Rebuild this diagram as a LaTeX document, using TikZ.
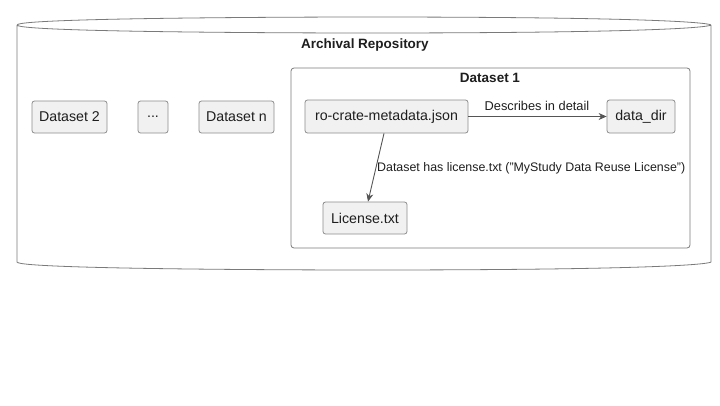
\documentclass[tikz,border=0pt]{standalone}
\usepackage{fontspec}
\setmainfont{Liberation Sans}
\usetikzlibrary{calc,arrows.meta}
\definecolor{boxfill}{HTML}{F1F1F1}
\definecolor{boxline}{HTML}{8C8C8C}
\definecolor{frameline}{HTML}{7A7A7A}
\definecolor{txt}{HTML}{1E1E1E}
\definecolor{arr}{HTML}{555555}
\begin{document}
\begin{tikzpicture}[x=1pt,y=1pt,
  box/.style={draw=boxline, fill=boxfill, rounded corners=2.5pt, line width=0.8pt,
    minimum height=32pt, inner sep=0pt, text=txt, font=\fontsize{14.2}{16}\selectfont},
  lbl/.style={text=txt, font=\fontsize{12.8}{15}\selectfont, inner sep=0pt},
  ttl/.style={text=txt, font=\fontsize{13.5}{15}\selectfont\bfseries, inner sep=0pt},
  conn/.style={draw=arr, line width=0.9pt, -{Stealth[length=8pt,width=7pt,inset=2.5pt]}}
]
\useasboundingbox (0,0) rectangle (720,-405);
% cylinder
\draw[frameline, line width=0.8pt]
  (17,-25) .. controls (17,-17) and (364,-17) .. (364,-17)
           .. controls (711,-17) and (711,-25) .. (711,-25)
  (17,-25) .. controls (17,-33) and (364,-33) .. (364,-33)
           .. controls (711,-33) and (711,-25) .. (711,-25)
  (17,-25) -- (17,-262)
           .. controls (17,-270) and (364,-270) .. (364,-270)
           .. controls (711,-270) and (711,-262) .. (711,-262)
           -- (711,-25);
\node[ttl] (arch) at (365,-45) {Archival Repository};
% dataset 1 frame
\draw[frameline, line width=0.8pt, rounded corners=3pt] (291,-68) rectangle (690,-248);
\node[ttl] (ds1) at (490,-78) {Dataset 1};
% nodes
\node[box, minimum width=75pt] (d2) at (69.5,-117) {Dataset 2};
\node[box, minimum width=30pt] (dots) at (153,-117) {.{}.{}.};
\node[box, minimum width=75pt] (dn) at (236.5,-117) {Dataset n};
\node[box, minimum width=163pt, minimum height=33pt] (ro) at (386.5,-116.5) {ro-crate-metadata.json};
\node[box, minimum width=68pt, minimum height=33pt] (dd) at (641,-116.5) {data\_dir};
\node[box, minimum width=84pt] (lic) at (365,-218) {License.txt};
% connectors
\draw[conn] (ro.east) -- (dd.west);
\node[lbl] (l1) at (537,-106) {Describes in detail};
\draw[conn] ($(ro.south)+(-2.5,0)$) -- ($(lic.north)+(3,0)$);
\node[lbl, anchor=west, font=\fontsize{12.4}{15}\selectfont] (l2) at (377,-168) {Dataset has license.txt ("MyStudy Data Reuse License")};
\end{tikzpicture}
\end{document}
